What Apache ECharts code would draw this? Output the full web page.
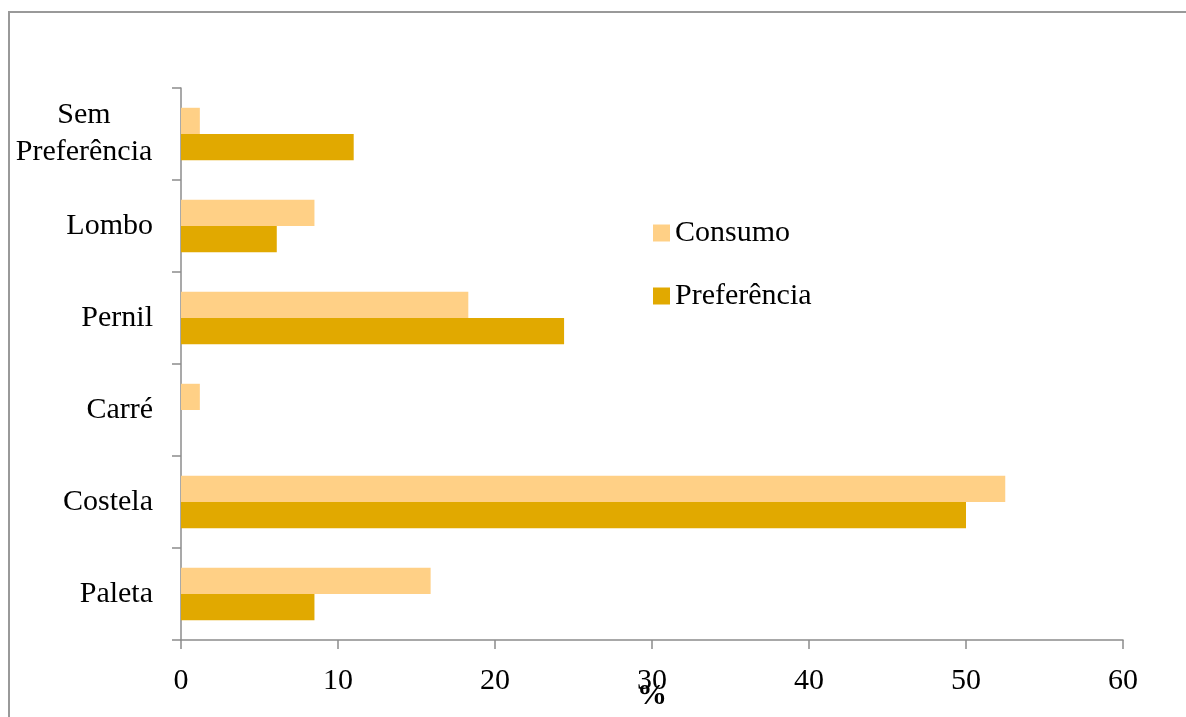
<!DOCTYPE html>
<html>
<head>
<meta charset="utf-8">
<script src="https://cdn.jsdelivr.net/npm/echarts@6/dist/echarts.min.js"></script>
<style>
html, body { margin: 0; padding: 0; background: #fff; }
#chart { width: 1186px; height: 717px; }
</style>
</head>
<body>
<div id="chart"></div>
<script>
// categorias (de baixo para cima)
var categories = ['Paleta', 'Costela', 'Carré', 'Pernil', 'Lombo', 'Sem Preferência'];
var consumo = [15.9, 52.5, 1.2, 18.3, 8.5, 1.2];
var preferencia = [8.5, 50, 0, 24.4, 6.1, 11];
var xTicks = [0, 10, 20, 30, 40, 50, 60];

var serif = '"Liberation Serif", "DejaVu Serif", serif';
var axisGray = '#8c8c8c';
var fs = 30;

var myChart = echarts.init(document.getElementById('chart'));

var option = {
	animation: false,
	backgroundColor: '#fff',
	textStyle: { fontFamily: serif },
	graphic: [{
		type: 'rect',
		shape: { x: 9, y: 12, width: 1200, height: 720 },
		style: { fill: 'none', stroke: '#999', lineWidth: 2 },
		silent: true
	}],
	grid: { left: 181, right: 63, top: 88, bottom: 77, outerBoundsMode: 'none', containLabel: false },
	legend: {
		orient: 'vertical',
		left: 648,
		top: 213,
		itemWidth: 17,
		itemHeight: 17,
		itemGap: 33,
		icon: 'rect',
		textStyle: { fontFamily: serif, fontSize: fs, color: '#000' },
		data: ['Consumo', 'Preferência']
	},
	xAxis: {
		type: 'value',
		min: xTicks[0],
		max: xTicks[xTicks.length - 1],
		interval: 10,
		name: '%',
		nameLocation: 'middle',
		nameGap: 41,
		nameMoveOverlap: false,
		nameTextStyle: { fontFamily: serif, fontSize: 30, fontWeight: 'bold', color: '#000' },
		axisLine: { show: true, lineStyle: { color: axisGray, width: 1.5 } },
		axisTick: { show: true, length: 9, lineStyle: { color: axisGray, width: 1.5 } },
		splitLine: { show: false },
		axisLabel: { fontFamily: serif, fontSize: fs, color: '#000', margin: 26 }
	},
	yAxis: {
		type: 'category',
		data: categories,
		axisLine: { show: true, lineStyle: { color: axisGray, width: 1.5 } },
		axisTick: { show: true, length: 9, lineStyle: { color: axisGray, width: 1.5 } },
		axisLabel: {
			fontFamily: serif,
			fontSize: fs,
			color: '#000',
			margin: 28,
			lineHeight: 37,
			formatter: function(v) {
				if (v === 'Sem Preferência') {
					return '{c|Sem}\n{c|Preferência}';
				}
				return v;
			},
			rich: {
				c: { width: 138, align: 'center', fontFamily: serif, fontSize: fs, color: '#000', lineHeight: 37 }
			}
		}
	},
	series: [{
		name: 'Consumo',
		type: 'bar',
		data: consumo,
		barGap: '0%',
		barCategoryGap: '43%',
		itemStyle: { color: '#FFD086' }
	}, {
		name: 'Preferência',
		type: 'bar',
		data: preferencia,
		barGap: '0%',
		barCategoryGap: '43%',
		itemStyle: { color: '#E1A900' }
	}]
};

myChart.setOption(option);
</script>
</body>
</html>
